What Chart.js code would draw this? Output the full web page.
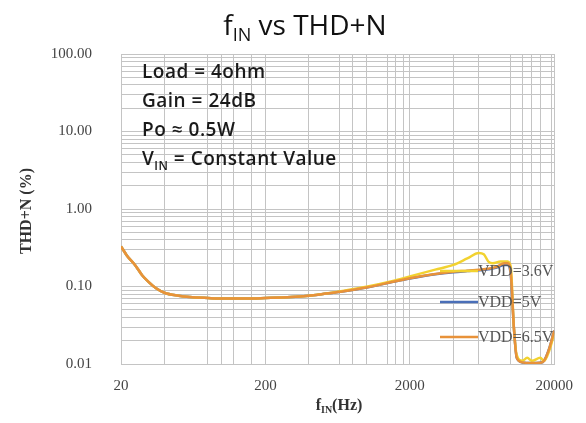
<!DOCTYPE html>
<html>
<head>
<meta charset="utf-8">
<script src="https://cdn.jsdelivr.net/npm/chart.js@4/dist/chart.umd.min.js"></script>
<style>
html,body{margin:0;padding:0;background:#fff;}
#wrap{width:586px;height:423px;position:relative;}
</style>
</head>
<body>
<div id="wrap"><canvas id="c" width="586" height="423"></canvas></div>
<script>
// ---- data ----
const freqs36 = [20,22,25,28,31,35,40,50,60,80,100,150,200,300,400,500,700,1000,1500,2000,3000,4000,5000,6000,6500,7000,7500,8500,9500,10000,10500,11000,12000,13000,14000,16000,17000,18500,20000];
const vdd36   = [0.33,0.25,0.19,0.14,0.115,0.095,0.083,0.076,0.073,0.071,0.07,0.07,0.071,0.073,0.076,0.08,0.088,0.099,0.117,0.135,0.165,0.19,0.23,0.27,0.26,0.21,0.2,0.21,0.21,0.18,0.03,0.013,0.011,0.012,0.011,0.012,0.011,0.015,0.025];
const freqs5  = [20,22,25,28,31,35,40,50,60,80,100,150,200,300,400,500,700,1000,1500,2000,3000,4000,5000,6000,7000,8000,9000,9500,10000,10500,11000,12000,14000,16000,17000,18500,20000];
const vdd5    = [0.33,0.25,0.19,0.14,0.115,0.095,0.083,0.076,0.073,0.071,0.07,0.07,0.071,0.073,0.076,0.08,0.087,0.097,0.114,0.127,0.144,0.153,0.158,0.162,0.167,0.175,0.19,0.19,0.14,0.03,0.012,0.0105,0.0103,0.0104,0.011,0.016,0.027];
const vdd65   = [0.33,0.25,0.19,0.14,0.115,0.095,0.083,0.076,0.073,0.071,0.07,0.07,0.071,0.073,0.076,0.08,0.087,0.097,0.114,0.128,0.145,0.155,0.16,0.165,0.17,0.18,0.2,0.2,0.15,0.03,0.012,0.0105,0.0103,0.0104,0.011,0.016,0.027];
const xTicks = [20,40,80,100,120,160,200,400,650,800,1000,1400,1600,1800,2000,4000,6000,10000,12000,14000,16000,19000,20000];
const xLabels = [20,200,2000,20000];
const yTicks = [0.01,0.02,0.03,0.04,0.05,0.06,0.07,0.08,0.09,0.1,0.2,0.3,0.4,0.5,0.6,0.7,0.8,0.9,1,2,3,4,5,6,7,8,9,10,20,30,40,50,60,70,80,90,100];
const yLabels = [0.01,0.1,1,10,100];
const seriesNames = ['VDD=3.6V','VDD=5V','VDD=6.5V'];
const notes = ['Load = 4ohm','Gain = 24dB','Po \u2248 0.5W'];

const cYellow = '#F2D230', cBlue = '#4A6FB8', cOrange = '#E8923A';
const pts = (f,v)=>f.map((x,i)=>({x:x,y:v[i]}));

const overlay = {
  id:'overlay',
  afterDraw(chart){
    const ctx = chart.ctx;
    ctx.save();
    // Title with subscript
    ctx.fillStyle = '#111';
    ctx.textBaseline = 'alphabetic';
    const tFont = '28px "Open Sans", "Liberation Sans", sans-serif';
    const sFont = '18px "Open Sans", "Liberation Sans", sans-serif';
    ctx.font = tFont; const w1 = ctx.measureText('f').width;
    ctx.font = sFont; const w2 = ctx.measureText('IN').width;
    ctx.font = tFont; const w3 = ctx.measureText(' vs THD+N').width;
    let x0 = 305 - (w1+w2+w3)/2;
    ctx.font = tFont; ctx.fillText('f', x0, 35);
    ctx.font = sFont; ctx.fillText('IN', x0+w1, 41);
    ctx.font = tFont; ctx.fillText(' vs THD+N', x0+w1+w2, 35);

    // notes
    ctx.fillStyle = '#1a1a1a';
    ctx.letterSpacing = '0.5px';
    const nFont = '600 19px "Open Sans", "Liberation Sans", sans-serif';
    const nsFont = '600 12px "Open Sans", "Liberation Sans", sans-serif';
    ctx.font = nFont;
    notes.forEach((t,i)=>ctx.fillText(t, 142, 78 + i*29));
    ctx.fillText('V', 142, 165);
    const vw = ctx.measureText('V').width;
    ctx.font = nsFont; ctx.fillText('IN', 142+vw, 170);
    const iw = ctx.measureText('IN').width;
    ctx.font = nFont; ctx.fillText(' = Constant Value', 142+vw+iw, 165);
    ctx.letterSpacing = '0px';

    // legend
    const ly = [271, 302, 337];
    const lc = [cYellow, cBlue, cOrange];
    ctx.lineWidth = 2.5;
    lc.forEach((c,i)=>{
      ctx.strokeStyle = c;
      ctx.beginPath(); ctx.moveTo(440, ly[i]); ctx.lineTo(478, ly[i]); ctx.stroke();
    });
    ctx.fillStyle = '#555';
    ctx.font = '16px "Liberation Serif", "DejaVu Serif", serif';
    ctx.textBaseline = 'middle';
    seriesNames.forEach((t,i)=>ctx.fillText(t, 478, ly[i]+1));

    // axis titles
    ctx.fillStyle = '#333';
    ctx.textBaseline = 'alphabetic';
    const aFont = 'bold 16px "Liberation Serif", "DejaVu Serif", serif';
    const asFont = 'bold 10px "Liberation Serif", "DejaVu Serif", serif';
    ctx.font = aFont; const a1 = ctx.measureText('f').width;
    ctx.font = asFont; const a2 = ctx.measureText('IN').width;
    ctx.font = aFont; const a3 = ctx.measureText('(Hz)').width;
    let ax = 339 - (a1+a2+a3)/2;
    ctx.font = aFont; ctx.fillText('f', ax, 410);
    ctx.font = asFont; ctx.fillText('IN', ax+a1, 413);
    ctx.font = aFont; ctx.fillText('(Hz)', ax+a1+a2, 410);

    ctx.translate(31, 211);
    ctx.rotate(-Math.PI/2);
    ctx.textAlign = 'center';
    ctx.font = aFont;
    ctx.fillText('THD+N (%)', 0, 0);
    ctx.restore();
  }
};

new Chart(document.getElementById('c'), {
  type:'line',
  data:{
    datasets:[
      {label:seriesNames[1], data:pts(freqs5,vdd5), borderColor:cBlue, borderWidth:2.5, pointRadius:0, cubicInterpolationMode:'monotone', order:3},
      {label:seriesNames[0], data:pts(freqs36,vdd36), borderColor:cYellow, borderWidth:2.5, pointRadius:0, cubicInterpolationMode:'monotone', order:2},
      {label:seriesNames[2], data:pts(freqs5,vdd65), borderColor:cOrange, borderWidth:2.5, pointRadius:0, cubicInterpolationMode:'monotone', order:1}
    ]
  },
  options:{
    responsive:false,
    animation:false,
    events:[],
    layout:{padding:{top:54,right:22,bottom:0,left:0}},
    plugins:{legend:{display:false}, title:{display:false}, tooltip:{enabled:false}},
    scales:{
      x:{
        type:'logarithmic', min:20, max:20000,
        afterBuildTicks(s){ s.ticks = xTicks.map(v=>({value:v})); },
        afterFit(s){ s.height = 59; },
        grid:{color:'#c4c4c4', lineWidth:1, drawTicks:false},
        border:{color:'#c4c4c4'},
        ticks:{
          autoSkip:false, maxRotation:0, padding:13, color:'#444',
          font:{family:'"Liberation Serif", "DejaVu Serif", serif', size:15},
          callback(v){ return xLabels.includes(v) ? String(v) : ''; }
        }
      },
      y:{
        type:'logarithmic', min:0.01, max:100,
        afterBuildTicks(s){ s.ticks = yTicks.map(v=>({value:v})); },
        afterFit(s){ s.width = 121; },
        grid:{color:'#c4c4c4', lineWidth:1, drawTicks:false},
        border:{color:'#c4c4c4'},
        ticks:{
          autoSkip:false, padding:29, color:'#444',
          font:{family:'"Liberation Serif", "DejaVu Serif", serif', size:15},
          callback(v){ return yLabels.some(l=>Math.abs(l-v)/l<1e-6) ? v.toFixed(2) : ''; }
        }
      }
    }
  },
  plugins:[overlay]
});
</script>
</body>
</html>
